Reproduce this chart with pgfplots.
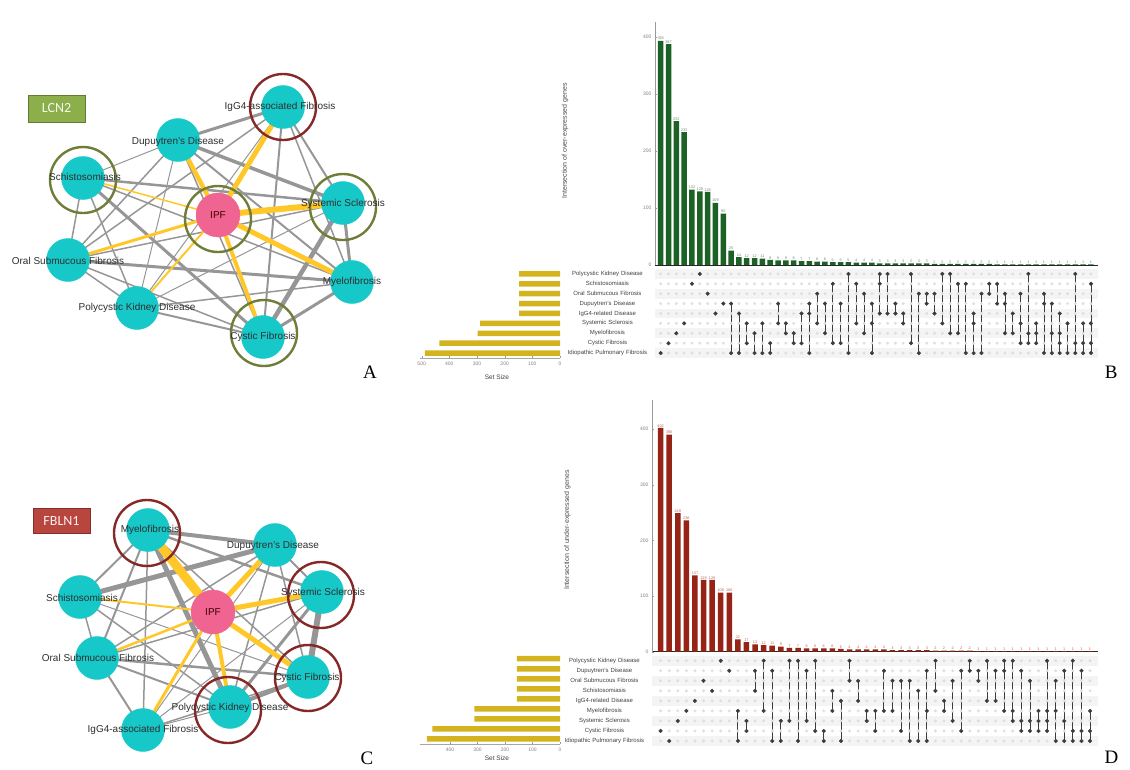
\documentclass[border=0pt]{standalone}
\usepackage{pgfplots}
\pgfplotsset{compat=1.18}
\usepackage{pgfplotstable}
\usepackage{fontspec}
\setmainfont{Liberation Sans}
\newfontfamily\seriffont{Liberation Serif}
\newfontfamily\calfont{Carlito}
\definecolor{nodecyan}{RGB}{22,200,200}
\definecolor{ipfpink}{RGB}{240,100,145}
\definecolor{edgegray}{RGB}{150,150,150}
\definecolor{edgeyel}{RGB}{255,200,40}
\definecolor{ringgreen}{RGB}{110,125,55}
\definecolor{ringred}{RGB}{135,40,40}
\definecolor{barGreen}{RGB}{28,98,38}
\definecolor{barRed}{RGB}{150,35,22}
\definecolor{setGold}{RGB}{212,180,30}
\definecolor{dotDark}{RGB}{60,60,60}
\definecolor{lcnbox}{RGB}{140,175,75}
\definecolor{fbbox}{RGB}{185,70,62}

\newcommand{\E}[5]{\addplot[edgegray, line width=#5pt] coordinates {(#1,#2) (#3,#4)};}
\newcommand{\Y}[5]{\addplot[edgeyel, line width=#5pt] coordinates {(#1,#2) (#3,#4)};}

\pgfplotstableread{
c v
1 393
2 387
3 252
4 233
5 132
6 129
7 128
8 109
9 90
10 25
11 14
12 12
13 12
14 11
15 9
16 8
17 8
18 8
19 7
20 7
21 6
22 6
23 5
24 5
25 5
26 4
27 4
28 4
29 3
30 3
31 3
32 3
33 3
34 3
35 3
36 2
37 2
38 2
39 2
40 2
41 2
42 2
43 2
44 1
45 1
46 1
47 1
48 1
49 1
50 1
51 1
52 1
53 1
54 1
55 1
56 1
}\barsB

\pgfplotstableread{
c v
1 402
2 390
3 249
4 236
5 137
6 129
7 129
8 106
9 106
10 22
11 17
12 13
13 12
14 11
15 9
16 7
17 7
18 6
19 6
20 6
21 6
22 5
23 4
24 4
25 4
26 4
27 4
28 3
29 3
30 3
31 3
32 3
33 2
34 2
35 2
36 2
37 2
38 1
39 1
40 1
41 1
42 1
43 1
44 1
45 1
46 1
47 1
48 1
49 1
50 1
51 1
}\barsD

\pgfplotstableread{
r v
1 148
2 148
3 148
4 148
5 148
6 289
7 298
8 436
9 488
}\setB

\pgfplotstableread{
r v
1 157
2 157
3 157
4 157
5 157
6 311
7 311
8 464
9 484
}\setD

\tikzset{netlab/.style={font=\fontsize{10}{12}\selectfont, text=black!82, inner sep=0pt}}

\pgfplotsset{
  netax/.style={scale only axis, anchor=center, at={(200pt,384.5pt)}, width=400pt, height=769pt,
    xmin=0, xmax=400, ymin=0, ymax=769, y dir=reverse, hide axis, clip=false},
  upbar/.style={scale only axis, anchor=center, ymin=0,
    axis x line*=bottom, axis y line*=left,
    x axis line style={-, black!85, line width=0.9pt},
    y axis line style={-, gray!80, line width=0.6pt},
    xtick=\empty, ytick={0,100,200,300,400},
    major tick length=2pt, tick style={gray!80},
    /pgf/number format/assume math mode=true,
    yticklabel style={font=\fontsize{5}{5}\selectfont, text=gray},
    ylabel style={font=\fontsize{7}{7}\selectfont, text=black!70, anchor=center},
    nodes near coords,
    every node near coord/.append style={font=\fontsize{3.8}{4}\selectfont, inner sep=0.6pt},
    clip=false},
  upmat/.style={scale only axis, anchor=center, ymin=0.5, ymax=9.5, y dir=reverse,
    axis line style={draw=none}, xtick=\empty, ytick={1,...,9},
    major tick length=0pt,
    yticklabel style={font=\fontsize{6}{6}\selectfont, text=black!75, text width=88pt, align=center},
    clip=false},
  upset/.style={scale only axis, anchor=center, xmin=0, x dir=reverse, ymin=0.5, ymax=9.5,
    axis x line*=bottom, axis y line=none,
    x axis line style={-, gray!70, line width=0.8pt},
    major tick length=2pt, tick style={gray!80},
    /pgf/number format/assume math mode=true,
    xticklabel style={font=\fontsize{5}{5}\selectfont, text=gray},
    xlabel={Set Size}, xlabel style={font=\fontsize{6.5}{6.5}\selectfont, text=black!75, anchor=center},
    clip=false}
}

\begin{document}
\begin{tikzpicture}
\useasboundingbox (0,0) rectangle (1130pt,769pt);

% ================= Networks =================
\begin{axis}[netax]
% ---- A gray edges
\E{283}{107}{178}{140}{3}
\E{283}{107}{343}{203}{2}
\E{283}{107}{352}{282}{1.5}
\E{283}{107}{263}{337}{2}
\E{283}{107}{68}{260}{1.5}
\E{283}{107}{137}{308}{1}
\E{178}{140}{343}{203}{3.5}
\E{178}{140}{352}{282}{2}
\E{178}{140}{263}{337}{1.5}
\E{178}{140}{68}{260}{1.5}
\E{178}{140}{137}{308}{1}
\E{178}{140}{83}{178}{1}
\E{83}{178}{343}{203}{2.5}
\E{83}{178}{352}{282}{1.5}
\E{83}{178}{263}{337}{3}
\E{83}{178}{68}{260}{1.5}
\E{83}{178}{137}{308}{1.5}
\E{68}{260}{343}{203}{1.5}
\E{68}{260}{352}{282}{3}
\E{68}{260}{137}{308}{1.5}
\E{68}{260}{263}{337}{1.5}
\E{137}{308}{352}{282}{1.5}
\E{137}{308}{263}{337}{2}
\E{137}{308}{343}{203}{1}
\E{343}{203}{352}{282}{3}
\E{343}{203}{263}{337}{4.5}
\E{352}{282}{263}{337}{3}
% ---- A yellow edges
\Y{218}{215}{283}{107}{5}
\Y{218}{215}{178}{140}{4.5}
\Y{218}{215}{83}{178}{1.5}
\Y{218}{215}{343}{203}{6}
\Y{218}{215}{352}{282}{5}
\Y{218}{215}{263}{337}{4}
\Y{218}{215}{68}{260}{3}
\Y{218}{215}{137}{308}{2}
% ---- C gray edges
\E{148}{530}{275}{545}{4}
\E{148}{530}{322}{592}{2.5}
\E{148}{530}{80}{597}{2}
\E{148}{530}{97}{658}{2}
\E{148}{530}{143}{730}{1.5}
\E{148}{530}{230}{707}{5}
\E{148}{530}{308}{677}{1.5}
\E{80}{597}{275}{545}{5}
\E{80}{597}{97}{658}{1.5}
\E{80}{597}{230}{707}{1.5}
\E{80}{597}{308}{677}{1}
\E{275}{545}{322}{592}{2}
\E{275}{545}{308}{677}{1.5}
\E{275}{545}{230}{707}{1.5}
\E{275}{545}{97}{658}{1.5}
\E{275}{545}{143}{730}{1}
\E{322}{592}{308}{677}{6}
\E{322}{592}{230}{707}{3}
\E{322}{592}{97}{658}{1.5}
\E{322}{592}{143}{730}{1}
\E{97}{658}{308}{677}{2.5}
\E{97}{658}{230}{707}{2}
\E{97}{658}{143}{730}{2}
\E{308}{677}{230}{707}{4}
\E{308}{677}{143}{730}{1.5}
\E{230}{707}{143}{730}{1}
% ---- C yellow edges
\Y{213}{612}{148}{530}{9}
\Y{213}{612}{275}{545}{5}
\Y{213}{612}{322}{592}{5}
\Y{213}{612}{308}{677}{5}
\Y{213}{612}{230}{707}{4}
\Y{213}{612}{143}{730}{3}
\Y{213}{612}{97}{658}{2.5}
\Y{213}{612}{80}{597}{2}
% ---- nodes
\addplot[only marks, mark=*, mark size=21.5pt, color=nodecyan] coordinates {
 (283,107) (178,140) (83,178) (343,203) (68,260) (352,282) (137,308) (263,337)
 (148,530) (275,545) (80,597) (322,592) (97,658) (308,677) (230,707) (143,730)};
\addplot[only marks, mark=*, mark size=22pt, color=ipfpink] coordinates {(218,215) (213,612)};
% ---- rings
\addplot[only marks, mark=o, mark size=33pt, color=ringgreen, mark options={line width=2.4pt}] coordinates {
 (83,180) (218,219) (343,207) (264,333)};
\addplot[only marks, mark=o, mark size=33pt, color=ringred, mark options={line width=2.4pt}] coordinates {
 (283,107) (147,533) (321,595) (308,678) (228,710)};
\end{axis}

% overlay axis with the same geometry for the text on top
\begin{axis}[netax]
\node[netlab] at (axis cs:280,107) {IgG4-associated Fibrosis};
\node[netlab] at (axis cs:178,142) {Dupuytren's Disease};
\node[netlab] at (axis cs:85,177) {Schistosomiasis};
\node[netlab, text=black!75!red] at (axis cs:218,215) {IPF};
\node[netlab] at (axis cs:343,204) {Systemic Sclerosis};
\node[netlab] at (axis cs:68,261) {Oral Submucous Fibrosis};
\node[netlab] at (axis cs:352,282) {Myelofibrosis};
\node[netlab] at (axis cs:137,308) {Polycystic Kidney Disease};
\node[netlab] at (axis cs:263,337) {Cystic Fibrosis};
\node[netlab] at (axis cs:150,530) {Myelofibrosis};
\node[netlab] at (axis cs:273,546) {Dupuytren's Disease};
\node[netlab] at (axis cs:82,598) {Schistosomiasis};
\node[netlab, text=black!75!red] at (axis cs:213,612) {IPF};
\node[netlab] at (axis cs:323,593) {Systemic Sclerosis};
\node[netlab] at (axis cs:98,658) {Oral Submucous Fibrosis};
\node[netlab] at (axis cs:307,678) {Cystic Fibrosis};
\node[netlab] at (axis cs:230,708) {Polycystic Kidney Disease};
\node[netlab] at (axis cs:143,730) {IgG4-associated Fibrosis};
\node[fill=lcnbox, draw=lcnbox!70!black, line width=0.8pt, minimum width=57pt, minimum height=27pt,
  text=white!92!lcnbox, font=\calfont\fontsize{14}{14}\selectfont] at (axis cs:56.5,108.5) {LCN2};
\node[fill=fbbox, draw=fbbox!70!black, line width=0.8pt, minimum width=57pt, minimum height=25pt,
  text=white!92!fbbox, font=\calfont\fontsize{14}{14}\selectfont] at (axis cs:61.5,520.8) {FBLN1};
\node[font=\seriffont\fontsize{19}{19}\selectfont] at (axis cs:370,372) {A};
\node[font=\seriffont\fontsize{19}{19}\selectfont] at (axis cs:367,758) {C};
\end{axis}

% ================= Panel B =================
\begin{axis}[upbar, at={(876.5pt,625.5pt)}, width=443pt, height=243pt,
  xmin=0.273, xmax=56.9, ymax=426,
  ylabel={Intersection of over-expressed genes},
  ylabel style={at={(axis description cs:-0.203,0.51)}},
  every node near coord/.append style={text=black!45!barGreen!60}]
\addplot[ybar, bar width=5.5pt, fill=barGreen, draw=none] table[x=c, y=v] {\barsB};
\end{axis}

\begin{axis}[upmat, at={(876.5pt,455.5pt)}, width=443pt, height=89pt,
  xmin=0.273, xmax=56.9,
  yticklabels={Polycystic Kidney Disease, Schistosomiasis, Oral Submucous Fibrosis, Dupuytren's Disease, IgG4-related Disease, Systemic Sclerosis, Myelofibrosis, Cystic Fibrosis, Idiopathic Pulmonary Fibrosis}]
\fill[gray!9] (axis cs:0.273,0.5) rectangle (axis cs:56.9,1.5);
\fill[gray!9] (axis cs:0.273,2.5) rectangle (axis cs:56.9,3.5);
\fill[gray!9] (axis cs:0.273,4.5) rectangle (axis cs:56.9,5.5);
\fill[gray!9] (axis cs:0.273,6.5) rectangle (axis cs:56.9,7.5);
\fill[gray!9] (axis cs:0.273,8.5) rectangle (axis cs:56.9,9.5);
\pgfplotsinvokeforeach{1,...,9}{\addplot[only marks, mark=*, mark size=1.3pt, color=gray!25] table[x=c, y expr=#1] {\barsB};}
\addplot[dotDark, line width=0.8pt, mark=*, mark size=1.9pt, mark options={line width=0.3pt}, unbounded coords=jump] table[row sep=\\] {x y\\
1 9\\1 nan\\2 8\\2 nan\\3 7\\3 nan\\4 6\\4 nan\\5 2\\5 nan\\6 1\\6 nan\\7 3\\7 nan\\8 5\\8 nan\\9 4\\9 nan\\
10 4\\10 9\\10 nan\\11 5\\11 9\\11 nan\\12 6\\12 8\\12 nan\\13 7\\13 9\\13 nan\\14 6\\14 9\\14 nan\\
15 8\\15 9\\15 nan\\16 4\\16 6\\16 nan\\17 6\\17 7\\17 nan\\18 7\\18 8\\18 nan\\19 5\\19 8\\19 nan\\
20 4\\20 5\\20 9\\20 nan\\21 3\\21 6\\21 nan\\22 4\\22 7\\22 nan\\23 2\\23 8\\23 nan\\24 4\\24 8\\24 nan\\
25 1\\25 9\\25 nan\\26 2\\26 6\\26 nan\\27 3\\27 7\\27 nan\\28 4\\28 6\\28 9\\28 nan\\29 1\\29 2\\29 5\\29 nan\\
30 1\\30 5\\30 nan\\31 4\\31 5\\31 nan\\32 5\\32 6\\32 nan\\33 1\\33 8\\33 nan\\34 3\\34 9\\34 nan\\
35 3\\35 4\\35 nan\\36 3\\36 5\\36 nan\\37 1\\37 6\\37 nan\\38 1\\38 7\\38 nan\\39 2\\39 7\\39 nan\\
40 2\\40 9\\40 nan\\41 5\\41 6\\41 9\\41 nan\\42 3\\42 9\\42 nan\\43 2\\43 3\\43 nan\\44 2\\44 4\\44 nan\\
45 3\\45 4\\45 7\\45 nan\\46 5\\46 7\\46 nan\\47 3\\47 6\\47 8\\47 nan\\48 1\\48 7\\48 8\\48 nan\\
49 6\\49 7\\49 8\\49 nan\\50 3\\50 4\\50 9\\50 nan\\51 4\\51 7\\51 9\\51 nan\\52 5\\52 7\\52 8\\52 9\\52 nan\\
53 6\\53 9\\53 nan\\54 1\\54 8\\54 9\\54 nan\\55 6\\55 8\\55 9\\55 nan\\56 2\\56 6\\56 8\\56 9\\
};
\node[font=\seriffont\fontsize{19}{19}\selectfont] at (axis cs:58.6,10.9) {B};
\end{axis}

\begin{axis}[upset, at={(490pt,455.5pt)}, width=140pt, height=89pt, xmax=506,
  xtick={0,100,...,500},
  xlabel style={at={(axis description cs:0.55,-0.21)}}]
\addplot[xbar, bar width=5.5pt, fill=setGold, draw=none] table[x=v, y expr=10-\thisrow{r}] {\setB};
\end{axis}

% ================= Panel D =================
\begin{axis}[upbar, at={(875pt,243.15pt)}, width=446pt, height=251.7pt,
  xmin=0, xmax=51.93, ymax=452,
  ylabel={Intersection of under-expressed genes},
  ylabel style={at={(axis description cs:-0.19,0.483)}},
  every node near coord/.append style={text=barRed!70!white}]
\addplot[ybar, bar width=5.5pt, fill=barRed, draw=none] table[x=c, y=v] {\barsD};
\end{axis}

\begin{axis}[upmat, at={(875pt,68.15pt)}, width=446pt, height=90.3pt,
  xmin=0, xmax=51.93,
  yticklabels={Polycystic Kidney Disease, Dupuytren's Disease, Oral Submucous Fibrosis, Schistosomiasis, IgG4-related Disease, Myelofibrosis, Systemic Sclerosis, Cystic Fibrosis, Idiopathic Pulmonary Fibrosis}]
\fill[gray!9] (axis cs:0,0.5) rectangle (axis cs:51.93,1.5);
\fill[gray!9] (axis cs:0,2.5) rectangle (axis cs:51.93,3.5);
\fill[gray!9] (axis cs:0,4.5) rectangle (axis cs:51.93,5.5);
\fill[gray!9] (axis cs:0,6.5) rectangle (axis cs:51.93,7.5);
\fill[gray!9] (axis cs:0,8.5) rectangle (axis cs:51.93,9.5);
\pgfplotsinvokeforeach{1,...,9}{\addplot[only marks, mark=*, mark size=1.3pt, color=gray!25] table[x=c, y expr=#1] {\barsD};}
\addplot[dotDark, line width=0.8pt, mark=*, mark size=1.9pt, mark options={line width=0.3pt}, unbounded coords=jump] table[row sep=\\] {x y\\
1 8\\1 nan\\2 9\\2 nan\\3 7\\3 nan\\4 6\\4 nan\\5 5\\5 nan\\6 3\\6 nan\\7 4\\7 nan\\8 1\\8 nan\\9 2\\9 nan\\
10 6\\10 9\\10 nan\\11 7\\11 8\\11 nan\\12 2\\12 4\\12 nan\\13 1\\13 6\\13 nan\\14 2\\14 9\\14 nan\\
15 7\\15 9\\15 nan\\16 1\\16 7\\16 nan\\17 1\\17 9\\17 nan\\18 2\\18 7\\18 nan\\19 1\\19 8\\19 nan\\
20 8\\20 9\\20 nan\\21 4\\21 6\\21 nan\\22 5\\22 9\\22 nan\\23 1\\23 3\\23 nan\\24 3\\24 5\\24 nan\\
25 6\\25 7\\25 nan\\26 6\\26 8\\26 nan\\27 2\\27 6\\27 nan\\28 3\\28 6\\28 nan\\29 3\\29 8\\29 nan\\
30 3\\30 9\\30 nan\\31 4\\31 9\\31 nan\\32 2\\32 6\\32 9\\32 nan\\33 1\\33 4\\33 nan\\34 5\\34 6\\34 nan\\
35 3\\35 7\\35 nan\\36 2\\36 8\\36 nan\\37 1\\37 2\\37 nan\\38 2\\38 3\\38 nan\\39 1\\39 5\\39 nan\\
40 2\\40 5\\40 nan\\41 1\\41 2\\41 6\\41 nan\\42 1\\42 6\\42 7\\42 nan\\43 2\\43 7\\43 8\\43 nan\\
44 3\\44 7\\44 8\\44 nan\\45 6\\45 7\\45 8\\45 nan\\46 1\\46 6\\46 7\\46 8\\46 nan\\47 3\\47 6\\47 9\\47 nan\\
48 2\\48 7\\48 9\\48 nan\\49 1\\49 8\\49 9\\49 nan\\50 2\\50 8\\50 9\\50 nan\\51 6\\51 8\\51 9\\
};
\node[font=\seriffont\fontsize{19}{19}\selectfont] at (axis cs:53.5,10.6) {D};
\end{axis}

\begin{axis}[upset, at={(490pt,70.15pt)}, width=140pt, height=90.3pt, xmax=509,
  xtick={0,100,...,400},
  xlabel style={at={(axis description cs:0.55,-0.16)}}]
\addplot[xbar, bar width=5.5pt, fill=setGold, draw=none] table[x=v, y expr=10-\thisrow{r}] {\setD};
\end{axis}
\end{tikzpicture}
\end{document}
